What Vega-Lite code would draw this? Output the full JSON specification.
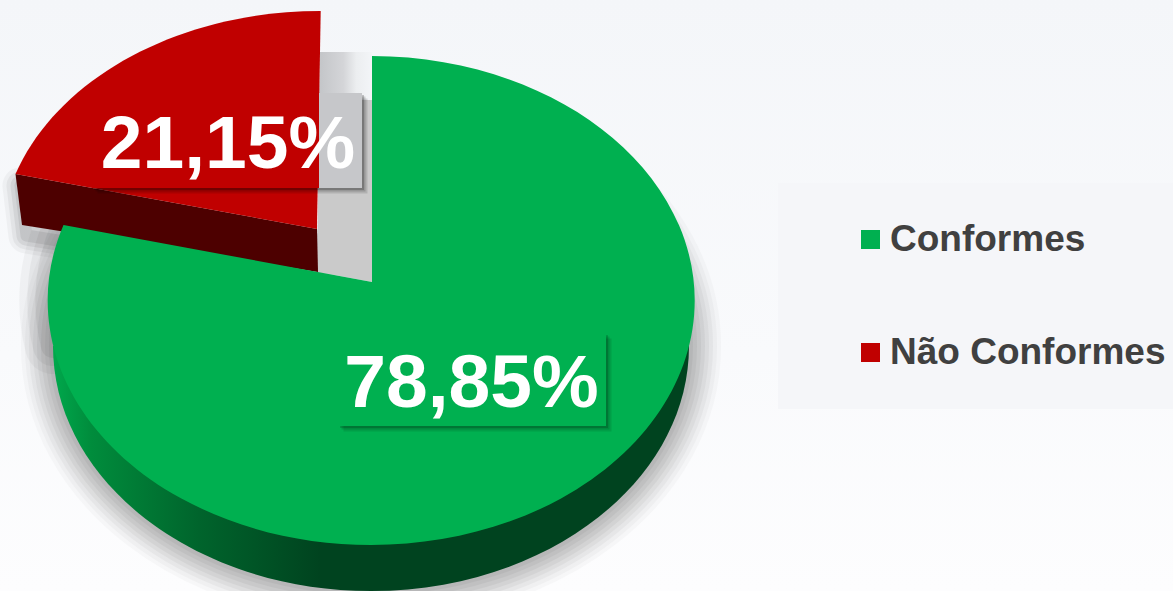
{"$schema":"https://vega.github.io/schema/vega-lite/v6.json","width":1173,"height":591,"padding":0,"autosize":{"type":"none"},"background":"#f8f9fb","config":{"view":{"stroke":null},"font":"Liberation Sans"},
"data":{"values":[{"segmento":"Conformes","percentual":78.85,"rotulo":"78,85%"},{"segmento":"Não Conformes","percentual":21.15,"rotulo":"21,15%"}]},
"resolve":{"legend":{"color":"independent","fill":"independent"}},
"layer":[
{"data":{"values":[{"elemento":"fundo"}]},"mark":{"type":"point","filled":true,"opacity":1,"size":4,"strokeWidth":0,"shape":"M-587,-296 h1174 v592 h-1174 Z","fill":{"gradient":"linear","x1":0,"y1":0,"x2":0,"y2":1,"stops":[{"offset":0,"color":"#f4f6f9"},{"offset":0.6,"color":"#f9fafc"},{"offset":1,"color":"#fdfdfe"}]}},"encoding":{}},
{"data":{"values":[{"elemento":"sombra"}]},"mark":{"type":"point","filled":false,"opacity":0.02,"size":4,"stroke":"#000","strokeWidth":64,"shape":"M-533.5,50.5 A318,245 0 1 0 102.5,50.5 A318,245 0 1 0 -533.5,50.5 Z"},"encoding":{}},
{"data":{"values":[{"elemento":"sombra"}]},"mark":{"type":"point","filled":false,"opacity":0.025,"size":4,"stroke":"#000","strokeWidth":56,"shape":"M-533.5,50.5 A318,245 0 1 0 102.5,50.5 A318,245 0 1 0 -533.5,50.5 Z"},"encoding":{}},
{"data":{"values":[{"elemento":"sombra"}]},"mark":{"type":"point","filled":false,"opacity":0.03,"size":4,"stroke":"#000","strokeWidth":48,"shape":"M-533.5,50.5 A318,245 0 1 0 102.5,50.5 A318,245 0 1 0 -533.5,50.5 Z"},"encoding":{}},
{"data":{"values":[{"elemento":"sombra"}]},"mark":{"type":"point","filled":false,"opacity":0.035,"size":4,"stroke":"#000","strokeWidth":40,"shape":"M-533.5,50.5 A318,245 0 1 0 102.5,50.5 A318,245 0 1 0 -533.5,50.5 Z"},"encoding":{}},
{"data":{"values":[{"elemento":"sombra"}]},"mark":{"type":"point","filled":false,"opacity":0.04,"size":4,"stroke":"#000","strokeWidth":32,"shape":"M-533.5,50.5 A318,245 0 1 0 102.5,50.5 A318,245 0 1 0 -533.5,50.5 Z"},"encoding":{}},
{"data":{"values":[{"elemento":"sombra"}]},"mark":{"type":"point","filled":false,"opacity":0.04,"size":4,"stroke":"#000","strokeWidth":24,"shape":"M-533.5,50.5 A318,245 0 1 0 102.5,50.5 A318,245 0 1 0 -533.5,50.5 Z"},"encoding":{}},
{"data":{"values":[{"elemento":"sombra"}]},"mark":{"type":"point","filled":false,"opacity":0.04,"size":4,"stroke":"#000","strokeWidth":16,"shape":"M-533.5,50.5 A318,245 0 1 0 102.5,50.5 A318,245 0 1 0 -533.5,50.5 Z"},"encoding":{}},
{"data":{"values":[{"elemento":"sombra"}]},"mark":{"type":"point","filled":false,"opacity":0.04,"size":4,"stroke":"#000","strokeWidth":8,"shape":"M-533.5,50.5 A318,245 0 1 0 102.5,50.5 A318,245 0 1 0 -533.5,50.5 Z"},"encoding":{}},
{"data":{"values":[{"elemento":"sombra"}]},"mark":{"type":"point","filled":false,"opacity":0.03,"size":4,"stroke":"#000","strokeWidth":56,"strokeCap":"round","shape":"M-523,-70.5 A323.5,244.5 0 0 0 -533.5,50.5"},"encoding":{}},
{"data":{"values":[{"elemento":"sombra"}]},"mark":{"type":"point","filled":false,"opacity":0.04,"size":4,"stroke":"#000","strokeWidth":40,"strokeCap":"round","shape":"M-523,-70.5 A323.5,244.5 0 0 0 -533.5,50.5"},"encoding":{}},
{"data":{"values":[{"elemento":"sombra"}]},"mark":{"type":"point","filled":false,"opacity":0.05,"size":4,"stroke":"#000","strokeWidth":24,"strokeCap":"round","shape":"M-523,-70.5 A323.5,244.5 0 0 0 -533.5,50.5"},"encoding":{}},
{"data":{"values":[{"elemento":"sombra"}]},"mark":{"type":"point","filled":false,"opacity":0.03,"size":4,"stroke":"#000","strokeWidth":36,"strokeJoin":"round","shape":"M-566,-110 L-269.5,-56 L-268.5,-13.5 L-560,-60 Z"},"encoding":{}},
{"data":{"values":[{"elemento":"sombra"}]},"mark":{"type":"point","filled":false,"opacity":0.045,"size":4,"stroke":"#000","strokeWidth":28,"strokeJoin":"round","shape":"M-566,-110 L-269.5,-56 L-268.5,-13.5 L-560,-60 Z"},"encoding":{}},
{"data":{"values":[{"elemento":"sombra"}]},"mark":{"type":"point","filled":false,"opacity":0.06,"size":4,"stroke":"#000","strokeWidth":20,"strokeJoin":"round","shape":"M-566,-110 L-269.5,-56 L-268.5,-13.5 L-560,-60 Z"},"encoding":{}},
{"data":{"values":[{"elemento":"sombra"}]},"mark":{"type":"point","filled":false,"opacity":0.07,"size":4,"stroke":"#000","strokeWidth":12,"strokeJoin":"round","shape":"M-566,-110 L-269.5,-56 L-268.5,-13.5 L-560,-60 Z"},"encoding":{}},
{"data":{"values":[{"elemento":"lateral verde"}]},"mark":{"type":"point","filled":true,"opacity":1,"size":4,"strokeWidth":0,"shape":"M-533.5,50.5 A318,245 0 0 0 102.5,50.5 Z","fill":{"gradient":"linear","x1":0,"y1":0,"x2":1,"y2":0,"stops":[{"offset":0,"color":"#00a84c"},{"offset":0.06,"color":"#008c3c"},{"offset":0.23,"color":"#00642c"},{"offset":0.42,"color":"#00431f"},{"offset":1,"color":"#00431f"}]}},"encoding":{}},
{"data":{"values":[{"elemento":"vazio"}]},"mark":{"type":"point","filled":true,"opacity":1,"size":4,"strokeWidth":0,"shape":"M-266.5,-243.5 L-214.5,-243.5 L-214.5,-195 L-266.5,-195 Z","fill":{"gradient":"linear","x1":0,"y1":0,"x2":1,"y2":0,"stops":[{"offset":0,"color":"#c4c6c9"},{"offset":0.45,"color":"#d4d5d8"},{"offset":0.7,"color":"#eceef0"},{"offset":1,"color":"#f3f5f8"}]}},"encoding":{}},
{"data":{"values":[{"elemento":"vazio"}]},"mark":{"type":"point","filled":true,"opacity":1,"size":4,"strokeWidth":0,"fill":"#cacaca","shape":"M-268.5,-195.5 L-214.5,-195.5 L-214.5,-13.5 L-268.5,-23.5 Z"},"encoding":{}},
{"data":{"values":[{"elemento":"lateral vermelha"}]},"mark":{"type":"point","filled":true,"opacity":1,"size":4,"strokeWidth":0,"fill":"#4d0000","shape":"M-571,-121.5 L-269.5,-66.5 L-268.5,-23.5 L-564.5,-70.5 Z"},"encoding":{}},
{"mark":{"type":"point","filled":true,"opacity":1,"size":4,"strokeWidth":0},"encoding":{
"color":{"field":"segmento","type":"nominal","scale":{"domain":["Conformes","Não Conformes"],"range":["#00B050","#C00000"]},"legend":null},
"shape":{"field":"segmento","type":"nominal","scale":{"domain":["Conformes","Não Conformes"],"range":["M-214.5,-239.5 A323.5,244.5 0 1 1 -523,-70.5 L-214.5,-13.5 Z","M-571,-121.5 A320,235 0 0 1 -265.8,-284.5 L-269.5,-66.5 Z"]},"legend":null},
"tooltip":{"field":"percentual","type":"quantitative"}}},
{"mark":{"type":"point","filled":true,"opacity":1,"size":0,"strokeWidth":0},"encoding":{
"color":{"field":"segmento","type":"nominal","scale":{"domain":["Conformes","Não Conformes"],"range":["#00B050","#C00000"]},"legend":{"orient":"none","legendX":778,"legendY":183,"title":null,"symbolType":"square","symbolSize":361,"symbolOffset":36,"symbolStrokeWidth":0,"symbolOpacity":1,"labelFont":"Liberation Sans","labelFontSize":37,"labelFontWeight":"bold","labelColor":"#404040","labelLimit":500,"labelOffset":1,"rowPadding":75,"padding":38,"fillColor":"#f5f6f9"}}}},
{"data":{"values":[{"elemento":"sombra"}]},"mark":{"type":"point","filled":true,"opacity":0.12,"size":4,"strokeWidth":0,"fill":"#000","shape":"M-489,-197 h270 v95 h-270 Z"},"encoding":{}},
{"data":{"values":[{"elemento":"sombra"}]},"mark":{"type":"point","filled":true,"opacity":0.15,"size":4,"strokeWidth":0,"fill":"#000","shape":"M-491,-199 h270 v95 h-270 Z"},"encoding":{}},
{"data":{"values":[{"elemento":"sombra"}]},"mark":{"type":"point","filled":true,"opacity":0.2,"size":4,"strokeWidth":0,"fill":"#000","shape":"M-492.5,-200.5 h270 v95 h-270 Z"},"encoding":{}},
{"data":{"values":[{"elemento":"caixa"}]},"mark":{"type":"point","filled":true,"opacity":1,"size":4,"strokeWidth":0,"shape":"M-494.5,-202.5 h270 v95 h-270 Z","fill":{"gradient":"linear","x1":0,"y1":0,"x2":1,"y2":0,"stops":[{"offset":0,"color":"#c00000"},{"offset":0.84,"color":"#c00000"},{"offset":0.841,"color":"#c6c7ca"},{"offset":1,"color":"#c6c7ca"}]}},"encoding":{}},
{"data":{"values":[{"elemento":"sombra"}]},"mark":{"type":"point","filled":true,"opacity":0.1,"size":4,"strokeWidth":0,"fill":"#000","shape":"M-243,43 h268 v93 h-268 Z"},"encoding":{}},
{"data":{"values":[{"elemento":"sombra"}]},"mark":{"type":"point","filled":true,"opacity":0.12,"size":4,"strokeWidth":0,"fill":"#000","shape":"M-245,41 h268 v93 h-268 Z"},"encoding":{}},
{"data":{"values":[{"elemento":"sombra"}]},"mark":{"type":"point","filled":true,"opacity":0.15,"size":4,"strokeWidth":0,"fill":"#000","shape":"M-246.5,39.5 h268 v93 h-268 Z"},"encoding":{}},
{"data":{"values":[{"elemento":"caixa"}]},"mark":{"type":"point","filled":true,"opacity":1,"size":4,"strokeWidth":0,"fill":"#00B050","shape":"M-248.5,37.5 h268 v93 h-268 Z"},"encoding":{}},
{"transform":[{"filter":"datum.segmento==='Conformes'"}],"mark":{"type":"text","font":"Liberation Sans","fontWeight":"bold","fontSize":75,"color":"#ffffff","align":"center","baseline":"alphabetic","dx":-115,"dy":111.5},"encoding":{"text":{"field":"rotulo","type":"nominal"}}},
{"transform":[{"filter":"datum.segmento==='Não Conformes'"}],"mark":{"type":"text","font":"Liberation Sans","fontWeight":"bold","fontSize":75,"color":"#ffffff","align":"center","baseline":"alphabetic","dx":-358.5,"dy":-127.5},"encoding":{"text":{"field":"rotulo","type":"nominal"}}}
]}
